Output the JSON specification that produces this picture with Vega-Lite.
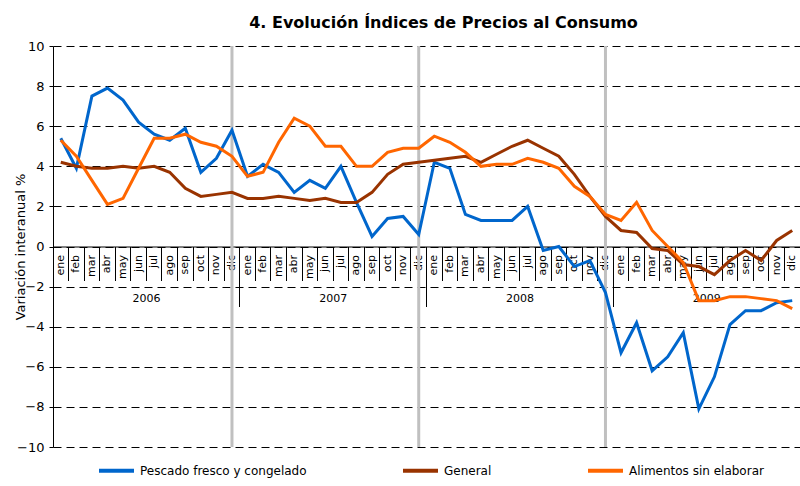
{
  "$schema": "https://vega.github.io/schema/vega-lite/v6.json",
  "width": 747,
  "height": 401,
  "autosize": "none",
  "padding": {"left": 53, "top": 46, "right": 0, "bottom": 39},
  "background": "white",
  "title": {"text": "4. Evolución Índices de Precios al Consumo", "font": "DejaVu Sans", "fontSize": 16, "fontWeight": "bold", "color": "black", "anchor": "middle", "dx": 17, "offset": 9},
  "config": {"view": {"stroke": null}, "font": "DejaVu Sans"},
  "resolve": {"axis": {"x": "independent"}},
  "layer": [
    {
      "data": {"values": [{"t": "2006-12"}, {"t": "2007-12"}, {"t": "2008-12"}]},
      "mark": {"type": "rule", "color": "#c0c0c0", "strokeWidth": 3},
      "encoding": {
        "x": {"field": "t", "type": "ordinal", "bandPosition": 0.5,
          "scale": {"type": "band", "paddingInner": 0, "paddingOuter": 0},
          "axis": {"orient": "bottom", "offset": -200.5, "values": ["2006-01", "2007-01", "2008-01", "2009-01"], "bandPosition": 0, "tickSize": 60, "tickColor": "black", "tickWidth": 1, "domain": false, "grid": false, "title": null, "labelAngle": 0, "labelAlign": "center", "labelBaseline": "middle", "labelPadding": -8, "labelOffset": 85.6, "labelExpr": "substring(datum.value,0,4)", "labelFont": "DejaVu Sans", "labelFontSize": 11, "labelColor": "black", "labelOverlap": false, "labelBound": false, "labelFlush": false}
        }
      }
    },
    {
      "data": {"values": [
        {"t": "2006-01", "s": "Pescado fresco y congelado", "v": 5.4},
        {"t": "2006-02", "s": "Pescado fresco y congelado", "v": 3.9},
        {"t": "2006-03", "s": "Pescado fresco y congelado", "v": 7.5},
        {"t": "2006-04", "s": "Pescado fresco y congelado", "v": 7.9},
        {"t": "2006-05", "s": "Pescado fresco y congelado", "v": 7.3},
        {"t": "2006-06", "s": "Pescado fresco y congelado", "v": 6.2},
        {"t": "2006-07", "s": "Pescado fresco y congelado", "v": 5.6},
        {"t": "2006-08", "s": "Pescado fresco y congelado", "v": 5.3},
        {"t": "2006-09", "s": "Pescado fresco y congelado", "v": 5.9},
        {"t": "2006-10", "s": "Pescado fresco y congelado", "v": 3.7},
        {"t": "2006-11", "s": "Pescado fresco y congelado", "v": 4.4},
        {"t": "2006-12", "s": "Pescado fresco y congelado", "v": 5.8},
        {"t": "2007-01", "s": "Pescado fresco y congelado", "v": 3.5},
        {"t": "2007-02", "s": "Pescado fresco y congelado", "v": 4.1},
        {"t": "2007-03", "s": "Pescado fresco y congelado", "v": 3.7},
        {"t": "2007-04", "s": "Pescado fresco y congelado", "v": 2.7},
        {"t": "2007-05", "s": "Pescado fresco y congelado", "v": 3.3},
        {"t": "2007-06", "s": "Pescado fresco y congelado", "v": 2.9},
        {"t": "2007-07", "s": "Pescado fresco y congelado", "v": 4.0},
        {"t": "2007-08", "s": "Pescado fresco y congelado", "v": 2.2},
        {"t": "2007-09", "s": "Pescado fresco y congelado", "v": 0.5},
        {"t": "2007-10", "s": "Pescado fresco y congelado", "v": 1.4},
        {"t": "2007-11", "s": "Pescado fresco y congelado", "v": 1.5},
        {"t": "2007-12", "s": "Pescado fresco y congelado", "v": 0.6},
        {"t": "2008-01", "s": "Pescado fresco y congelado", "v": 4.2},
        {"t": "2008-02", "s": "Pescado fresco y congelado", "v": 3.9},
        {"t": "2008-03", "s": "Pescado fresco y congelado", "v": 1.6},
        {"t": "2008-04", "s": "Pescado fresco y congelado", "v": 1.3},
        {"t": "2008-05", "s": "Pescado fresco y congelado", "v": 1.3},
        {"t": "2008-06", "s": "Pescado fresco y congelado", "v": 1.3},
        {"t": "2008-07", "s": "Pescado fresco y congelado", "v": 2.0},
        {"t": "2008-08", "s": "Pescado fresco y congelado", "v": -0.2},
        {"t": "2008-09", "s": "Pescado fresco y congelado", "v": 0.0},
        {"t": "2008-10", "s": "Pescado fresco y congelado", "v": -1.0},
        {"t": "2008-11", "s": "Pescado fresco y congelado", "v": -0.7},
        {"t": "2008-12", "s": "Pescado fresco y congelado", "v": -2.3},
        {"t": "2009-01", "s": "Pescado fresco y congelado", "v": -5.3},
        {"t": "2009-02", "s": "Pescado fresco y congelado", "v": -3.8},
        {"t": "2009-03", "s": "Pescado fresco y congelado", "v": -6.2},
        {"t": "2009-04", "s": "Pescado fresco y congelado", "v": -5.5},
        {"t": "2009-05", "s": "Pescado fresco y congelado", "v": -4.3},
        {"t": "2009-06", "s": "Pescado fresco y congelado", "v": -8.1},
        {"t": "2009-07", "s": "Pescado fresco y congelado", "v": -6.5},
        {"t": "2009-08", "s": "Pescado fresco y congelado", "v": -3.9},
        {"t": "2009-09", "s": "Pescado fresco y congelado", "v": -3.2},
        {"t": "2009-10", "s": "Pescado fresco y congelado", "v": -3.2},
        {"t": "2009-11", "s": "Pescado fresco y congelado", "v": -2.8},
        {"t": "2009-12", "s": "Pescado fresco y congelado", "v": -2.7},
        {"t": "2006-01", "s": "General", "v": 4.2},
        {"t": "2006-02", "s": "General", "v": 4.0},
        {"t": "2006-03", "s": "General", "v": 3.9},
        {"t": "2006-04", "s": "General", "v": 3.9},
        {"t": "2006-05", "s": "General", "v": 4.0},
        {"t": "2006-06", "s": "General", "v": 3.9},
        {"t": "2006-07", "s": "General", "v": 4.0},
        {"t": "2006-08", "s": "General", "v": 3.7},
        {"t": "2006-09", "s": "General", "v": 2.9},
        {"t": "2006-10", "s": "General", "v": 2.5},
        {"t": "2006-11", "s": "General", "v": 2.6},
        {"t": "2006-12", "s": "General", "v": 2.7},
        {"t": "2007-01", "s": "General", "v": 2.4},
        {"t": "2007-02", "s": "General", "v": 2.4},
        {"t": "2007-03", "s": "General", "v": 2.5},
        {"t": "2007-04", "s": "General", "v": 2.4},
        {"t": "2007-05", "s": "General", "v": 2.3},
        {"t": "2007-06", "s": "General", "v": 2.4},
        {"t": "2007-07", "s": "General", "v": 2.2},
        {"t": "2007-08", "s": "General", "v": 2.2},
        {"t": "2007-09", "s": "General", "v": 2.7},
        {"t": "2007-10", "s": "General", "v": 3.6},
        {"t": "2007-11", "s": "General", "v": 4.1},
        {"t": "2007-12", "s": "General", "v": 4.2},
        {"t": "2008-01", "s": "General", "v": 4.3},
        {"t": "2008-02", "s": "General", "v": 4.4},
        {"t": "2008-03", "s": "General", "v": 4.5},
        {"t": "2008-04", "s": "General", "v": 4.2},
        {"t": "2008-05", "s": "General", "v": 4.6},
        {"t": "2008-06", "s": "General", "v": 5.0},
        {"t": "2008-07", "s": "General", "v": 5.3},
        {"t": "2008-08", "s": "General", "v": 4.9},
        {"t": "2008-09", "s": "General", "v": 4.5},
        {"t": "2008-10", "s": "General", "v": 3.6},
        {"t": "2008-11", "s": "General", "v": 2.5},
        {"t": "2008-12", "s": "General", "v": 1.5},
        {"t": "2009-01", "s": "General", "v": 0.8},
        {"t": "2009-02", "s": "General", "v": 0.7},
        {"t": "2009-03", "s": "General", "v": -0.1},
        {"t": "2009-04", "s": "General", "v": -0.2},
        {"t": "2009-05", "s": "General", "v": -0.9},
        {"t": "2009-06", "s": "General", "v": -1.0},
        {"t": "2009-07", "s": "General", "v": -1.4},
        {"t": "2009-08", "s": "General", "v": -0.7},
        {"t": "2009-09", "s": "General", "v": -0.2},
        {"t": "2009-10", "s": "General", "v": -0.7},
        {"t": "2009-11", "s": "General", "v": 0.3},
        {"t": "2009-12", "s": "General", "v": 0.8},
        {"t": "2006-01", "s": "Alimentos sin elaborar", "v": 5.3},
        {"t": "2006-02", "s": "Alimentos sin elaborar", "v": 4.5},
        {"t": "2006-03", "s": "Alimentos sin elaborar", "v": 3.3},
        {"t": "2006-04", "s": "Alimentos sin elaborar", "v": 2.1},
        {"t": "2006-05", "s": "Alimentos sin elaborar", "v": 2.4},
        {"t": "2006-06", "s": "Alimentos sin elaborar", "v": 3.9},
        {"t": "2006-07", "s": "Alimentos sin elaborar", "v": 5.4},
        {"t": "2006-08", "s": "Alimentos sin elaborar", "v": 5.4},
        {"t": "2006-09", "s": "Alimentos sin elaborar", "v": 5.6},
        {"t": "2006-10", "s": "Alimentos sin elaborar", "v": 5.2},
        {"t": "2006-11", "s": "Alimentos sin elaborar", "v": 5.0},
        {"t": "2006-12", "s": "Alimentos sin elaborar", "v": 4.5},
        {"t": "2007-01", "s": "Alimentos sin elaborar", "v": 3.5},
        {"t": "2007-02", "s": "Alimentos sin elaborar", "v": 3.7},
        {"t": "2007-03", "s": "Alimentos sin elaborar", "v": 5.2},
        {"t": "2007-04", "s": "Alimentos sin elaborar", "v": 6.4},
        {"t": "2007-05", "s": "Alimentos sin elaborar", "v": 6.0},
        {"t": "2007-06", "s": "Alimentos sin elaborar", "v": 5.0},
        {"t": "2007-07", "s": "Alimentos sin elaborar", "v": 5.0},
        {"t": "2007-08", "s": "Alimentos sin elaborar", "v": 4.0},
        {"t": "2007-09", "s": "Alimentos sin elaborar", "v": 4.0},
        {"t": "2007-10", "s": "Alimentos sin elaborar", "v": 4.7},
        {"t": "2007-11", "s": "Alimentos sin elaborar", "v": 4.9},
        {"t": "2007-12", "s": "Alimentos sin elaborar", "v": 4.9},
        {"t": "2008-01", "s": "Alimentos sin elaborar", "v": 5.5},
        {"t": "2008-02", "s": "Alimentos sin elaborar", "v": 5.2},
        {"t": "2008-03", "s": "Alimentos sin elaborar", "v": 4.7},
        {"t": "2008-04", "s": "Alimentos sin elaborar", "v": 4.0},
        {"t": "2008-05", "s": "Alimentos sin elaborar", "v": 4.1},
        {"t": "2008-06", "s": "Alimentos sin elaborar", "v": 4.1},
        {"t": "2008-07", "s": "Alimentos sin elaborar", "v": 4.4},
        {"t": "2008-08", "s": "Alimentos sin elaborar", "v": 4.2},
        {"t": "2008-09", "s": "Alimentos sin elaborar", "v": 3.9},
        {"t": "2008-10", "s": "Alimentos sin elaborar", "v": 3.0},
        {"t": "2008-11", "s": "Alimentos sin elaborar", "v": 2.5},
        {"t": "2008-12", "s": "Alimentos sin elaborar", "v": 1.6},
        {"t": "2009-01", "s": "Alimentos sin elaborar", "v": 1.3},
        {"t": "2009-02", "s": "Alimentos sin elaborar", "v": 2.2},
        {"t": "2009-03", "s": "Alimentos sin elaborar", "v": 0.8},
        {"t": "2009-04", "s": "Alimentos sin elaborar", "v": 0.0},
        {"t": "2009-05", "s": "Alimentos sin elaborar", "v": -0.8},
        {"t": "2009-06", "s": "Alimentos sin elaborar", "v": -2.7},
        {"t": "2009-07", "s": "Alimentos sin elaborar", "v": -2.7},
        {"t": "2009-08", "s": "Alimentos sin elaborar", "v": -2.5},
        {"t": "2009-09", "s": "Alimentos sin elaborar", "v": -2.5},
        {"t": "2009-10", "s": "Alimentos sin elaborar", "v": -2.6},
        {"t": "2009-11", "s": "Alimentos sin elaborar", "v": -2.7},
        {"t": "2009-12", "s": "Alimentos sin elaborar", "v": -3.1}
      ]},
      "mark": {"type": "line", "strokeWidth": 3},
      "encoding": {
        "x": {"field": "t", "type": "ordinal", "bandPosition": 0.5,
          "scale": {"type": "band", "paddingInner": 0, "paddingOuter": 0},
          "axis": {"orient": "bottom", "offset": -200.5, "bandPosition": 0, "tickSize": 34, "tickColor": "black", "tickWidth": 1, "domain": true, "domainColor": "black", "domainWidth": 1, "grid": false, "title": null, "labelAngle": -90, "labelAlign": "right", "labelBaseline": "middle", "labelPadding": -26, "labelExpr": "['ene','feb','mar','abr','may','jun','jul','ago','sep','oct','nov','dic'][toNumber(substring(datum.value,5,7))-1]", "labelFont": "DejaVu Sans", "labelFontSize": 11, "labelColor": "black", "labelOverlap": false, "labelBound": false, "labelFlush": false}
        },
        "y": {"field": "v", "type": "quantitative",
          "scale": {"domain": [-10, 10], "nice": false, "zero": false},
          "axis": {"values": [-10, -8, -6, -4, -2, 0, 2, 4, 6, 8, 10], "grid": true, "gridColor": "black", "gridDash": [8, 5], "gridWidth": 1, "gridOpacity": 1, "domain": true, "domainColor": "black", "domainWidth": 1, "tickSize": 4, "tickColor": "black", "labelFont": "DejaVu Sans", "labelFontSize": 13, "labelColor": "black", "labelPadding": 5, "title": "Variación interanual %", "titleFont": "DejaVu Sans", "titleFontSize": 13, "titleFontWeight": "normal", "titleColor": "black", "titleX": -33, "titleY": 200.5, "titleAlign": "center", "titleBaseline": "middle"}
        },
        "color": {"field": "s", "type": "nominal",
          "scale": {"domain": ["Pescado fresco y congelado", "General", "Alimentos sin elaborar"], "range": ["#0066cc", "#993300", "#ff6600"]},
          "legend": {"orient": "none", "legendX": 44, "legendY": 405, "direction": "horizontal", "title": null, "symbolType": "stroke", "symbolSize": 1225, "symbolStrokeWidth": 4, "labelFont": "DejaVu Sans", "labelFontSize": 12, "labelColor": "black", "columnPadding": 88, "labelLimit": 300}
        },
        "order": {"value": 0}
      }
    }
  ]
}
